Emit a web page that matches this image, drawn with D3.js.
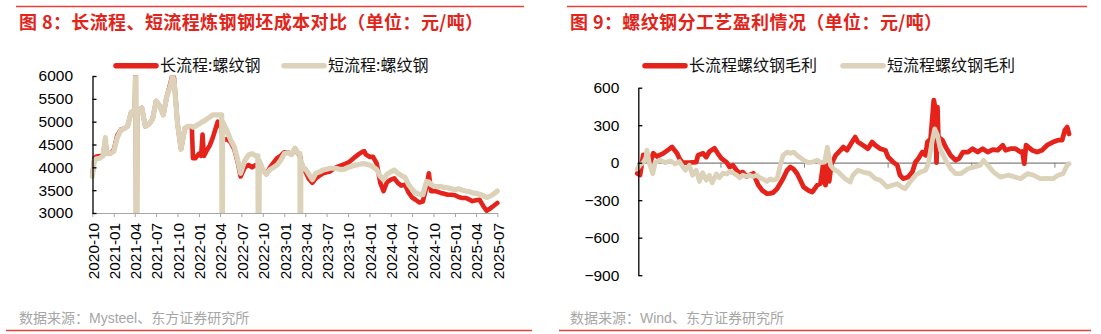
<!DOCTYPE html>
<html><head><meta charset="utf-8">
<script src="https://cdn.jsdelivr.net/npm/d3@7"></script>
<style>
body{margin:0;background:#fff;}
svg{display:block;font-family:"Liberation Sans",Arial,"Noto Sans CJK SC",sans-serif;}
</style></head><body>
<svg id="c" width="1101" height="334"></svg>
<script>
// ---------------- data ----------------
const leftTitle = "图 8：长流程、短流程炼钢钢坯成本对比（单位：元/吨）";
const rightTitle = "图 9：螺纹钢分工艺盈利情况（单位：元/吨）";
const leftSource = "数据来源：Mysteel、东方证券研究所";
const rightSource = "数据来源：Wind、东方证券研究所";
const leftSeriesNames = ["长流程:螺纹钢", "短流程:螺纹钢"];
const rightSeriesNames = ["长流程螺纹钢毛利", "短流程螺纹钢毛利"];

const leftDates = [
"2020-10-01","2020-10-10","2020-10-16","2020-11-01","2020-11-16","2020-11-26","2020-12-01","2020-12-16",
"2021-01-01","2021-01-16","2021-02-01","2021-02-16","2021-03-01","2021-03-16","2021-04-01","2021-04-05","2021-04-08","2021-04-11","2021-04-16",
"2021-05-01","2021-05-16","2021-06-01","2021-06-16","2021-07-01","2021-07-16","2021-08-01","2021-08-16","2021-09-01","2021-09-10","2021-09-16",
"2021-10-01","2021-10-16","2021-11-01","2021-11-16","2021-12-01","2021-12-06","2021-12-16",
"2022-01-01","2022-01-10","2022-01-16","2022-01-22","2022-02-01","2022-02-16","2022-03-01","2022-03-16","2022-03-22","2022-04-01","2022-04-08","2022-04-10","2022-04-12","2022-04-16",
"2022-05-01","2022-05-16","2022-06-01","2022-06-16","2022-06-28","2022-07-16","2022-08-01","2022-08-16","2022-09-01","2022-09-10","2022-09-13","2022-09-16",
"2022-10-01","2022-10-16","2022-11-01","2022-11-16","2022-12-01","2022-12-16",
"2023-01-01","2023-01-16","2023-02-01","2023-02-16","2023-03-01","2023-03-09","2023-03-11","2023-03-13","2023-03-22","2023-04-05","2023-04-16",
"2023-05-01","2023-05-16","2023-06-01","2023-06-16","2023-07-01","2023-07-16","2023-08-01","2023-08-16","2023-09-01","2023-09-16",
"2023-10-01","2023-10-16","2023-11-01","2023-11-16","2023-12-01","2023-12-10","2023-12-16",
"2024-01-01","2024-01-16","2024-02-01","2024-02-16","2024-03-01","2024-03-16","2024-04-01","2024-04-16","2024-05-01","2024-05-16","2024-06-01","2024-06-16",
"2024-07-01","2024-07-16","2024-08-01","2024-08-16","2024-09-01","2024-09-11","2024-09-20","2024-10-01","2024-10-16","2024-11-01","2024-11-16","2024-12-01","2024-12-16",
"2025-01-01","2025-01-16","2025-02-01","2025-02-16","2025-03-01","2025-03-16","2025-04-01","2025-04-16","2025-05-01","2025-05-16","2025-06-01","2025-06-16","2025-07-01"
];
const leftShort = [
3800,4150,4180,4200,4250,4650,4300,4300,
4350,4650,4820,4850,4900,5200,5250,6500,0,5150,5250,
5300,4900,4950,5050,5450,5350,5150,5550,5800,6000,5900,
4950,4400,4850,4900,4900,4880,4900,
4950,4980,5000,5010,5050,5100,5150,5150,5150,5150,5150,0,5000,4950,
4800,4600,4450,4150,3870,4150,4270,4300,4250,4250,0,4150,
3950,3850,3950,4000,4050,4150,
4300,4320,4280,4420,4310,4300,0,4150,4010,3940,3850,
3730,3870,3900,3940,3960,3980,3980,3970,3950,3960,
4000,4020,4050,4060,4080,4080,4070,
4050,4010,3950,3800,3730,3850,3900,3940,3870,3820,3780,3620,
3520,3440,3410,3400,3690,3680,3620,3590,3580,3580,3560,3550,3530,
3510,3530,3500,3480,3470,3440,3430,3410,3380,3340,3370,3420,3480
];
const leftLong = [
3820,4200,4230,4250,4260,4600,4320,4300,
4380,4700,4830,4850,4900,5200,5250,6500,0,5150,5250,
5300,4900,4950,5050,5450,5350,5150,5550,5850,6050,5950,
4950,4400,4850,4900,4900,4200,4200,
4300,4250,4720,4250,4350,4480,4650,4900,5000,4950,4800,4700,4650,4600,
4620,4550,4400,4100,3800,4000,4050,4000,4050,4000,4000,4050,
3950,3850,4000,4100,4200,4250,
4330,4330,4280,4400,4300,4250,4200,4100,3980,3870,3750,
3660,3760,3820,3870,3890,3910,3970,4010,4040,4070,
4100,4160,4230,4290,4340,4350,4280,
4230,4230,4080,3660,3480,3680,3730,3760,3660,3600,3620,3450,
3340,3290,3230,3250,3580,3870,3480,3480,3470,3440,3420,3400,3400,
3390,3350,3330,3330,3300,3260,3280,3290,3160,3050,3100,3160,3220
];
const leftXTicks = ["2020-10","2021-01","2021-04","2021-07","2021-10","2022-01","2022-04","2022-07","2022-10",
"2023-01","2023-04","2023-07","2023-10","2024-01","2024-04","2024-07","2024-10","2025-01","2025-04","2025-07"];
const leftYTicks = [3000,3500,4000,4500,5000,5500,6000];

const rightLongDates = [
"2022-12-01","2022-12-07","2022-12-14","2022-12-21","2022-12-29",
"2023-01-05","2023-01-13","2023-01-27","2023-02-11","2023-02-15","2023-02-26",
"2023-03-03","2023-03-10","2023-03-24","2023-04-09","2023-04-13","2023-04-24",
"2023-05-01","2023-05-08","2023-05-19","2023-05-26","2023-06-03","2023-06-14","2023-06-21","2023-06-28",
"2023-07-06","2023-07-13","2023-07-20","2023-07-28","2023-08-12","2023-08-23","2023-08-31",
"2023-09-11","2023-09-18","2023-09-24","2023-10-03","2023-10-16","2023-10-25",
"2023-11-01","2023-11-08","2023-11-16","2023-11-23","2023-11-30","2023-12-10","2023-12-19","2023-12-30",
"2024-01-06","2024-01-12","2024-01-17","2024-01-21","2024-01-25","2024-01-30",
"2024-02-08","2024-02-19","2024-02-25","2024-03-04","2024-03-15","2024-03-22","2024-03-28",
"2024-04-08","2024-04-19","2024-04-28","2024-05-05","2024-05-16","2024-05-27",
"2024-06-02","2024-06-13","2024-06-22","2024-06-28","2024-07-05","2024-07-16","2024-07-25",
"2024-08-01","2024-08-07","2024-08-16","2024-08-23","2024-08-27","2024-09-03","2024-09-10","2024-09-14","2024-09-16","2024-09-18","2024-09-20","2024-09-29",
"2024-10-06","2024-10-17","2024-10-28","2024-11-04","2024-11-13","2024-11-24",
"2024-12-04","2024-12-15","2024-12-26","2025-01-06","2025-01-17","2025-01-28",
"2025-02-08","2025-02-14","2025-02-25","2025-03-08","2025-03-19","2025-03-23","2025-03-27","2025-03-31",
"2025-04-13","2025-04-24","2025-05-05","2025-05-16","2025-05-29","2025-06-09","2025-06-18","2025-06-24","2025-06-29","2025-07-03"
];
const rightLongValues = [
-85,-98,62,35,-5,
75,50,75,115,125,75,
35,0,0,5,60,75,
45,90,115,75,35,5,-35,-20,
-60,-85,-75,-110,-85,-180,-220,
-248,-245,-240,-208,-128,-60,
-35,-50,-88,-140,-195,-220,-235,-180,
-168,-10,-180,-20,-150,-10,
58,100,125,100,165,205,165,
140,112,165,140,112,100,
45,5,-20,-100,-128,-115,-75,
5,32,85,60,165,190,500,420,0,445,205,180,
125,58,20,32,85,85,
112,85,112,85,105,100,
140,100,112,112,85,90,-8,140,
100,85,100,140,165,180,180,260,285,230
];
const rightShortDates = [
"2022-12-01","2022-12-07","2022-12-14","2022-12-20","2022-12-22","2022-12-27",
"2023-01-04","2023-01-09","2023-01-20","2023-01-31","2023-02-11","2023-02-22",
"2023-03-03","2023-03-12","2023-03-16","2023-03-25","2023-04-01","2023-04-09","2023-04-16","2023-04-23",
"2023-05-01","2023-05-08","2023-05-14","2023-05-23","2023-05-30","2023-06-06","2023-06-15","2023-06-21","2023-06-28",
"2023-07-07","2023-07-13","2023-07-20","2023-07-29","2023-08-04","2023-08-11","2023-08-20","2023-08-26",
"2023-09-02","2023-09-11","2023-09-18","2023-09-24","2023-10-03","2023-10-09","2023-10-16","2023-10-25",
"2023-11-01","2023-11-08","2023-11-16","2023-11-23","2023-11-30","2023-12-10","2023-12-19","2023-12-30",
"2024-01-06","2024-01-15","2024-01-21","2024-01-28","2024-02-03","2024-02-14","2024-02-29",
"2024-03-11","2024-03-17","2024-03-28","2024-04-08","2024-04-23","2024-05-05","2024-05-16","2024-05-31",
"2024-06-11","2024-06-22","2024-07-02","2024-07-09","2024-07-20","2024-08-01","2024-08-12","2024-08-23","2024-08-29",
"2024-09-07","2024-09-12","2024-09-18","2024-09-25","2024-10-06","2024-10-17","2024-10-28",
"2024-11-08","2024-11-24","2024-12-06","2024-12-21","2024-12-28","2025-01-06","2025-01-19",
"2025-02-03","2025-02-19","2025-03-03","2025-03-19","2025-04-03","2025-04-16","2025-05-01","2025-05-16","2025-05-29",
"2025-06-09","2025-06-20","2025-06-29","2025-07-03"
];
const rightShortValues = [
-50,-20,0,40,100,0,
-88,0,20,0,15,-10,
10,-40,-60,-20,-100,-60,-150,-80,
-140,-100,-160,-90,-120,-85,-90,-70,-80,
-100,-120,-100,-110,-100,-110,-100,-120,
-130,-150,-130,-140,-130,-35,58,85,
75,85,58,40,20,0,5,20,
0,5,125,-20,-48,-75,-128,
-155,-100,-60,-75,-88,-128,-140,-195,
-180,-168,-195,-208,-155,-100,-75,-60,-8,
180,270,220,100,20,-48,-88,
-88,-48,-35,-20,20,-20,-75,
-115,-100,-110,-128,-88,-100,-128,-125,-128,
-100,-88,-20,-8
];
const rightXTicks = ["2022-12","2023-06","2023-12","2024-06","2024-12","2025-06"];
const rightYTicks = [-900,-600,-300,0,300,600];

// ---------------- drawing ----------------
const RED = "#e5231b", BEIGE = "#dcd2b9", TITLE = "#e1251b", SRC = "#a6a6a6";
const pDay = d3.timeParse("%Y-%m-%d"), pMon = d3.timeParse("%Y-%m");
const svg = d3.select("#c");
const defs = svg.append("defs");

function frame(x0, x1, title, src, bx0, bx1) {
  svg.append("line").attr("x1", x0).attr("x2", x1).attr("y1", 6.5).attr("y2", 6.5)
    .attr("stroke", "#e8403a").attr("stroke-width", 1.3);
  svg.append("text").attr("x", x0 + 3).attr("y", 29).text(title)
    .attr("fill", TITLE).attr("font-size", "18px").attr("font-weight", "bold")
    .attr("letter-spacing", "0.4px")
    .attr("font-family", "'Noto Sans CJK SC','Liberation Sans',sans-serif");
  svg.append("text").attr("x", x0 + 3).attr("y", 322.5).text(src)
    .attr("fill", SRC).attr("font-size", "14px")
    .attr("font-family", "'Liberation Sans','Noto Sans CJK SC',sans-serif");
  svg.append("line").attr("x1", bx0).attr("x2", bx1).attr("y1", 330.5).attr("y2", 330.5)
    .attr("stroke", "#e8403a").attr("stroke-width", 1.3);
}
function legend(items) {
  items.forEach(it => {
    svg.append("line").attr("x1", it.x).attr("x2", it.x + 40).attr("y1", 65.7).attr("y2", 65.7)
      .attr("stroke", it.color).attr("stroke-width", 5.5).attr("stroke-linecap", "round");
    svg.append("text").attr("x", it.x + 44).attr("y", 71.2).text(it.name)
      .attr("font-size", "16px").attr("fill", "#111")
      .attr("font-family", "'Noto Sans CJK SC','Liberation Sans',sans-serif");
  });
}

// ===== Left chart =====
frame(16, 524, leftTitle, leftSource, 6, 532);
legend([{x: 116, color: RED, name: leftSeriesNames[0]}, {x: 284, color: BEIGE, name: leftSeriesNames[1]}]);

const lx = d3.scaleTime().domain([pDay("2020-10-01"), pDay("2025-07-01")]).range([92.3, 497.3]);
const ly = d3.scaleLinear().domain([3000, 6000]).range([213, 76]);

defs.append("clipPath").attr("id", "clipL").append("rect").attr("x", 80).attr("y", 75.5).attr("width", 430).attr("height", 137.5);

const gLx = svg.append("g").attr("transform", "translate(0,213)")
  .call(d3.axisBottom(lx).tickValues(leftXTicks.map(pMon)).tickFormat(d3.timeFormat("%Y-%m")).tickSizeInner(4).tickSizeOuter(0));
gLx.select(".domain").attr("stroke", "#a6a6a6").attr("stroke-width", 1.2);
gLx.selectAll(".tick line").attr("stroke", "#a6a6a6");
gLx.selectAll("text").attr("transform", "rotate(-90)").attr("x", -10).attr("y", 0).attr("dy", "0.38em")
  .style("text-anchor", "end").attr("font-size", "15.3px").attr("fill", "#000")
  .attr("font-family", "'Liberation Sans',Arial,sans-serif");

const ldata = leftDates.map((d, i) => ({d: pDay(d), s: leftShort[i], l: leftLong[i]}));
const gL = svg.append("g").attr("clip-path", "url(#clipL)");
gL.append("path").datum(ldata).attr("fill", "none").attr("stroke", RED).attr("stroke-width", 4.6)
  .attr("stroke-linejoin", "round").attr("stroke-linecap", "round")
  .attr("d", d3.line().x(p => lx(p.d)).y(p => ly(p.l)));
gL.append("path").datum(ldata).attr("fill", "none").attr("stroke", BEIGE).attr("stroke-width", 5.2)
  .attr("stroke-linejoin", "round").attr("stroke-linecap", "round")
  .attr("d", d3.line().x(p => lx(p.d)).y(p => ly(p.s)));

const gLy = svg.append("g").attr("transform", "translate(92.5,0)")
  .call(d3.axisLeft(ly).tickValues(leftYTicks).tickFormat(d3.format("d")).tickSizeInner(-4).tickSizeOuter(0).tickPadding(19.5));
gLy.select(".domain").attr("stroke", "#000").attr("stroke-width", 1.3);
gLy.selectAll(".tick line").attr("stroke", "#000").attr("stroke-width", 1.3);
gLy.selectAll("text").attr("font-size", "15.5px").attr("fill", "#000")
  .attr("font-family", "'Liberation Sans',Arial,sans-serif");

// ===== Right chart =====
frame(567, 1087, rightTitle, rightSource, 559, 1091);
legend([{x: 645, color: RED, name: rightSeriesNames[0]}, {x: 843, color: BEIGE, name: rightSeriesNames[1]}]);

const rx = d3.scaleTime().domain([pDay("2022-12-01"), pDay("2025-07-03")]).range([637.3, 1069]);
const ry = d3.scaleLinear().domain([-900, 600]).range([275.2, 87.7]);

defs.append("clipPath").attr("id", "clipR").append("rect").attr("x", 630).attr("y", 84).attr("width", 450).attr("height", 194);
defs.append("clipPath").attr("id", "clipRL").append("rect").attr("x", 580).attr("y", 280).attr("width", 490).attr("height", 30);

const gZero = svg.append("g").attr("transform", `translate(0,${ry(0)})`)
  .call(d3.axisBottom(rx).tickValues(rightXTicks.map(pMon)).tickFormat("").tickSizeInner(5).tickSizeOuter(0));
gZero.select(".domain").attr("stroke", "#808080").attr("stroke-width", 1.2);
gZero.selectAll(".tick line").attr("stroke", "#808080");

const gRx = svg.append("g").attr("transform", "translate(0,288.5)").attr("clip-path", "url(#clipRL)")
  .call(d3.axisBottom(rx).tickValues(rightXTicks.map(pMon)).tickFormat(d3.timeFormat("%Y-%m")).tickSize(0).tickPadding(0));
gRx.select(".domain").remove();
gRx.selectAll("text").attr("font-size", "15.5px").attr("fill", "#000")
  .attr("font-family", "'Liberation Sans',Arial,sans-serif");

const rl = rightLongDates.map((d, i) => ({d: pDay(d), v: rightLongValues[i]}));
const rs = rightShortDates.map((d, i) => ({d: pDay(d), v: rightShortValues[i]}));
const gR = svg.append("g").attr("clip-path", "url(#clipR)");
const rline = d3.line().x(p => rx(p.d)).y(p => ry(p.v));
gR.append("path").datum(rl).attr("fill", "none").attr("stroke", RED).attr("stroke-width", 4.8)
  .attr("stroke-linejoin", "round").attr("stroke-linecap", "round").attr("d", rline);
gR.append("path").datum(rs).attr("fill", "none").attr("stroke", BEIGE).attr("stroke-width", 4.8)
  .attr("stroke-linejoin", "round").attr("stroke-linecap", "round").attr("d", rline);

const gRy = svg.append("g").attr("transform", "translate(638.3,0)")
  .call(d3.axisLeft(ry).tickValues(rightYTicks).tickFormat(d3.format("d")).tickSizeInner(-4).tickSizeOuter(0).tickPadding(19));
gRy.select(".domain").attr("stroke", "#000").attr("stroke-width", 1.3);
gRy.selectAll(".tick line").attr("stroke", "#000").attr("stroke-width", 1.3);
gRy.selectAll("text").attr("font-size", "15.5px").attr("fill", "#000")
  .attr("font-family", "'Liberation Sans',Arial,sans-serif");
</script>
</body></html>
